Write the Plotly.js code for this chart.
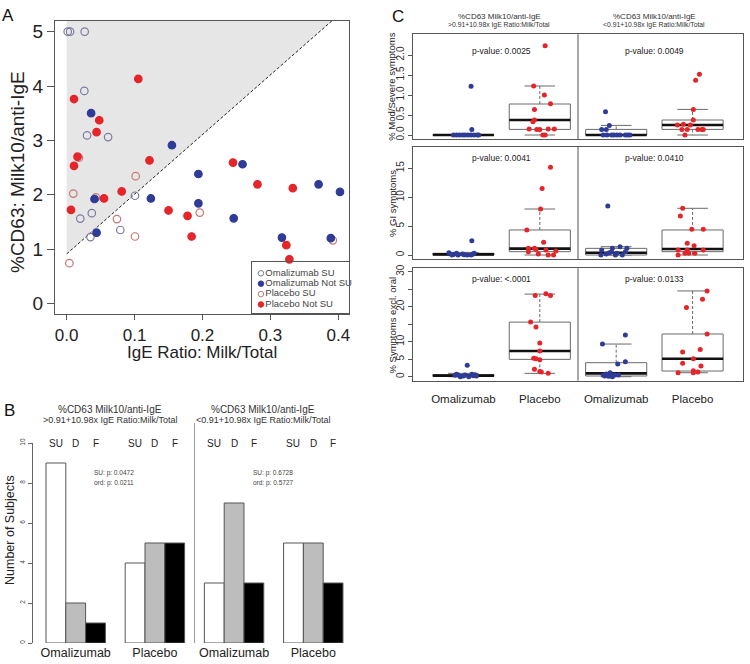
<!DOCTYPE html>
<html><head><meta charset="utf-8">
<script src="https://cdn.plot.ly/plotly-3.0.1.min.js"></script>
<style>html,body{margin:0;padding:0;background:#fff}#chart{width:750px;height:664px}</style>
</head><body><div id="chart"></div>
<script>
// ---------- Panel A data ----------
const omalSU_x = [0.0015,0.005,0.0265,0.026,0.030,0.061,0.037,0.020,0.035,0.079,0.1006];
const omalSU_y = [5.0,5.0,5.0,3.91,3.09,3.06,1.66,1.56,1.22,1.35,1.98];
const placSU_x = [0.0098,0.018,0.1016,0.074,0.1006,0.004,0.043,0.196,0.392];
const placSU_y = [2.02,2.68,2.34,1.55,1.23,0.74,1.95,1.67,1.16];
const omalNot_x = [0.036,0.155,0.041,0.124,0.044,0.194,0.194,0.259,0.371,0.4025,0.246,0.317,0.389];
const omalNot_y = [3.50,2.91,1.92,1.93,1.30,2.38,1.84,2.56,2.19,2.05,1.565,1.21,1.20];
const placNot_x = [0.1055,0.0108,0.048,0.044,0.016,0.0108,0.122,0.081,0.055,0.0064,0.150,0.178,0.184,0.245,0.281,0.333,0.3235,0.328];
const placNot_y = [4.13,3.76,3.37,3.15,2.70,2.53,2.63,2.06,1.93,1.72,1.71,1.61,1.23,2.59,2.19,2.12,1.07,0.81];
const cutIntercept = 0.91, cutSlope = 10.98;
const aXTicks = [0,0.1,0.2,0.3,0.4];
const aYTicks = [0,1,2,3,4,5];
const legendNames = ['Omalizumab SU','Omalizumab Not SU','Placebo SU','Placebo Not SU'];

// ---------- Panel B data ----------
const bGroups = ['Omalizumab','Placebo','Omalizumab','Placebo'];
const bOutcomes = ['SU','D','F'];
const bSU = [9,4,3,5];
const bD  = [2,5,7,5];
const bF  = [1,5,3,3];
const bYTicks = [0,2,4,6,8,10];
const subTitle1 = '%CD63 Milk10/anti-IgE';
const subTitle2 = ['>0.91+10.98x IgE Ratio:Milk/Total','<0.91+10.98x IgE Ratio:Milk/Total'];
const bPvals = [['SU: p: 0.0472','ord: p: 0.0211'],['SU: p: 0.6728','ord: p: 0.5727']];

// ---------- Panel C data ----------
const cNames = ['Omalizumab','Placebo','Omalizumab','Placebo'];
const cPos = [1,2,3,4];
const cYTitles = ['% Mod/Severe symptoms','% GI symptoms','% Symptoms excl. oral'];
const cPvals = [['p-value: 0.0025','p-value: 0.0049'],['p-value: 0.0041','p-value: 0.0410'],['p-value: <.0001','p-value: 0.0133']];
const modTicks = [0,0.5,1,1.5,2], modTickText = ['0.0','0.5','1.0','1.5','2.0'];
const giTicks = [0,5,10,15], giTickText = ['0','5','10','15'];
const exTicks = [0,5,10,15,20,25,30], exTickText = ['0','5','10','','20','','30'];

const modQ1=[0,0.14,0,0.14], modMed=[0,0.375,0,0.25], modQ3=[0,0.775,0.14,0.375], modLo=[0,0,0,0], modHi=[0,1.225,0.24,0.64];
const modVals=[[1.22,0.14,0,0,0,0,0,0,0,0,0,0],[2.23,1.225,1.0,0.78,0.64,0.375,0.33,0.15,0.14,0.15,0.15,0,0,0.14],[0.58,0.24,0.14,0.14,0,0,0,0,0,0,0,0,0],[1.52,1.37,0.64,0.375,0.27,0.25,0.14,0.14,0.14,0.14,0.14,0,0.25]];
const modJit=[[1.10,1.11,0.87,0.91,0.95,0.99,1.02,1.06,1.10,1.14,1.18,1.20],[2.07,1.92,2.06,2.14,1.93,1.93,1.91,1.86,2.00,2.11,2.19,2.04,2.07,1.96],[2.86,2.91,2.81,2.87,2.83,2.88,2.94,2.97,3.01,3.05,3.12,3.15,3.18],[4.09,4.04,4.01,4.01,3.88,3.80,3.86,3.93,4.07,4.12,4.14,3.90,3.97]];

const giQ1=[0,0.58,0,0.58], giMed=[0.1,1.1,0.4,1.04], giQ3=[0.3,4.33,1.15,4.33], giLo=[0,0,0,0], giHi=[0.45,7.96,1.44,8.08];
const giVals=[[2.48,0.40,0,0.17,0,0,0.29,0.1,0.05,0.3,0.12,0],[15.2,11.5,7.96,4.33,2.2,1.15,1.15,0.87,0.7,0.58,0.17,0,0,1.0],[8.5,1.44,1.15,0.87,0.58,0.4,0.29,0,0,0,0.17,1.15,0.58],[8.08,6.75,4.44,4.44,2.02,1.62,0.87,0.87,0.87,0.29,0.29,0,0.29]];
const giJit=[[1.11,0.81,0.93,0.99,1.05,1.10,1.14,0.87,1.01,0.91,1.12,0.85],[2.14,2.03,2.01,1.83,2.05,1.85,1.93,2.08,2.21,1.85,1.98,2.11,2.18,1.95],[2.89,3.05,2.95,2.81,3.12,2.91,3.01,2.80,2.99,3.08,2.87,3.14,2.94],[3.87,3.84,3.99,4.14,3.93,4.02,3.81,3.93,4.14,3.95,3.90,3.81,4.03]];

const exQ1=[0.1,4.95,0.19,1.62], exMed=[0.3,7.33,0.95,5.14], exQ3=[0.6,15.6,4.0,12.2], exLo=[0,0.95,0,1.14], exHi=[0.95,23.6,9.33,24.5];
const exVals=[[3.24,0.67,0,0.19,0,0.29,0.19,0.48,0.38,0.67,0.48,0.57],[23.2,23.7,23.2,15.6,14.2,9.6,7.33,5.24,5.14,4.86,2.1,1.52,0.95,1.33],[11.9,9.33,4.29,3.62,1.14,0.76,0.48,0.48,0.19,0.1,0.48,0.48,0],[24.5,22.1,19.8,12.2,7.05,7.8,5.14,3.81,3.05,1.71,1.33,1.14,1.14]];
const exJit=[[1.05,0.91,0.96,1.00,1.07,1.13,1.17,0.93,0.89,1.11,1.02,1.15],[1.94,2.08,2.14,1.88,1.95,2.00,2.00,1.92,1.95,2.00,1.93,2.00,2.11,2.02],[3.12,2.82,3.12,3.02,2.92,2.87,2.94,2.83,2.85,2.90,2.98,3.03,2.95],[4.19,4.13,3.92,4.19,3.87,4.10,4.01,3.87,4.11,4.01,4.07,3.81,4.01]];

// ---------- helpers ----------
const W = 750, H = 664;
const FONT = 'Liberation Sans, Arial, sans-serif';
const px = x => x / W;
const py = y => 1 - y / H;
const BLUE = '#2e3b97', RED = '#e5252a', OSU = '#7b7b9e', PSU = '#c47876';
const traces = [];
const annotations = [];
const shapes = [];
function note(xp, yp, text, size, extra) {
  annotations.push(Object.assign({xref:'paper', yref:'paper', x:px(xp), y:py(yp), text:text, showarrow:false,
    xanchor:'center', yanchor:'middle', font:{size:size, color:'#222'}}, extra || {}));
}

// ---------- Panel A ----------
const aYRange = [-0.2, 5.2];
const xCutTop = (aYRange[1] - cutIntercept) / cutSlope;
traces.push({type:'scatter', mode:'lines', x:[0,0,xCutTop,0], y:[cutIntercept,aYRange[1],aYRange[1],cutIntercept],
  fill:'toself', fillcolor:'#e6e6e6', line:{width:0}, xaxis:'x', yaxis:'y', hoverinfo:'skip'});
traces.push({type:'scatter', mode:'lines', x:[0,xCutTop], y:[cutIntercept,aYRange[1]],
  line:{color:'#222', width:1, dash:'3px,2px'}, xaxis:'x', yaxis:'y'});
const aSeries = [
  {x:omalSU_x, y:omalSU_y, sym:'circle-open', color:OSU},
  {x:placSU_x, y:placSU_y, sym:'circle-open', color:PSU},
  {x:omalNot_x, y:omalNot_y, sym:'circle', color:BLUE},
  {x:placNot_x, y:placNot_y, sym:'circle', color:RED}
];
aSeries.forEach(s => traces.push({type:'scatter', mode:'markers', x:s.x, y:s.y, xaxis:'x', yaxis:'y',
  marker:{symbol:s.sym, size:7.5, color:s.color, line:{width:1.2, color:s.color}}}));
// manual legend
const legSym = ['circle-open','circle','circle-open','circle'];
const legCol = [OSU, BLUE, PSU, RED];
traces.push({type:'scatter', mode:'markers+text', xaxis:'x6', yaxis:'y6',
  x: legendNames.map(() => 0.095), y: legendNames.map((_, i) => 0.774 - i * 0.2025),
  text: legendNames, textposition:'middle right', textfont:{size:9.5, color:'#444', family:FONT},
  marker:{symbol:legSym, size:5.5, color:legCol, line:{width:1, color:legCol}}, cliponaxis:false});

// ---------- Panel B ----------
const bData = [bSU, bD, bF];
const bColors = ['#ffffff', '#bdbdbd', '#000000'];
bData.forEach((vals, k) => traces.push({type:'bar', x: vals.map((_, g) => g*4 + k + 0.5), y: vals, width: 1,
  xaxis:'x2', yaxis:'y2', marker:{color:bColors[k], line:{color:'#555', width:1}}}));
bGroups.forEach((_, g) => bOutcomes.forEach((o, k) => annotations.push({xref:'x2', yref:'y2', x:g*4+k+0.5, y:10,
  text:o, showarrow:false, xanchor:'center', yanchor:'middle', font:{size:10, color:'#222'}})));
shapes.push({type:'line', xref:'x2', yref:'paper', x0:7.5, x1:7.5, y0:py(643), y1:py(423), line:{color:'#999', width:1}});
[110, 263].forEach((cx, i) => {
  note(cx, 409.5, subTitle1, 10, {font:{size:10, color:'#333'}});
  note(cx, 420, subTitle2[i], 9, {font:{size:9, color:'#333'}});
});
[114, 273].forEach((cx, i) => {
  note(cx, 473, bPvals[i][0], 6.5, {font:{size:6.5, color:'#444'}});
  note(cx, 483, bPvals[i][1], 6.5, {font:{size:6.5, color:'#444'}});
});
note(10, 530, 'Number of Subjects', 12.5, {textangle:-90});

// ---------- Panel C ----------
const cRows = [
  {q1:modQ1, med:modMed, q3:modQ3, lo:modLo, hi:modHi, vals:modVals, jit:modJit},
  {q1:giQ1, med:giMed, q3:giQ3, lo:giLo, hi:giHi, vals:giVals, jit:giJit},
  {q1:exQ1, med:exMed, q3:exQ3, lo:exLo, hi:exHi, vals:exVals, jit:exJit}
];
const HALF = 0.4, STAP = 0.2;
cRows.forEach((r, ri) => {
  const xa = 'x' + (ri + 3), ya = 'y' + (ri + 3);
  cPos.forEach((p, g) => {
    traces.push({type:'scatter', mode:'lines', xaxis:xa, yaxis:ya, x:[p, p, null, p, p], y:[r.q3[g], r.hi[g], null, r.q1[g], r.lo[g]],
      line:{color:'#6a6a6a', width:1, dash:'3px,2px'}, hoverinfo:'skip'});
    traces.push({type:'scatter', mode:'lines', xaxis:xa, yaxis:ya, x:[p-STAP, p+STAP, null, p-STAP, p+STAP], y:[r.hi[g], r.hi[g], null, r.lo[g], r.lo[g]],
      line:{color:'#6a6a6a', width:1}, hoverinfo:'skip'});
    traces.push({type:'scatter', mode:'lines', xaxis:xa, yaxis:ya, x:[p-HALF, p+HALF, p+HALF, p-HALF, p-HALF], y:[r.q1[g], r.q1[g], r.q3[g], r.q3[g], r.q1[g]],
      fill:'toself', fillcolor:'#ffffff', line:{color:'#6a6a6a', width:1}, hoverinfo:'skip'});
    traces.push({type:'scatter', mode:'lines', xaxis:xa, yaxis:ya, x:[p-HALF, p+HALF], y:[r.med[g], r.med[g]],
      line:{color:'#111', width:2.6}, hoverinfo:'skip'});
  });
  cPos.forEach((p, g) => {
    traces.push({type:'scatter', mode:'markers', xaxis:xa, yaxis:ya, x:r.jit[g], y:r.vals[g],
      marker:{size:5, color: g % 2 === 0 ? BLUE : RED}, cliponaxis:false});
  });
  shapes.push({type:'line', xref:xa, yref:ya + ' domain', x0:2.5, x1:2.5, y0:0, y1:1, line:{color:'#555', width:1}});
});
const cRowPix = [[34.3,139.3],[146.7,259.3],[268.3,380.7]];
const cPvalY = [51, 158, 279];
cRowPix.forEach((rp, ri) => {
  note(392, (rp[0]+rp[1])/2, cYTitles[ri], 9.5, {textangle:-90});
  [501, 654].forEach((cx, i) => note(cx, cPvalY[ri], cPvals[ri][i], 8.5));
});
[499, 654].forEach((cx, i) => {
  note(cx, 17, subTitle1, 8, {font:{size:8, color:'#333'}});
  note(cx, 24.5, subTitle2[i], 6.8, {font:{size:6.8, color:'#333'}});
});

// ---------- Panel A titles & letters ----------
note(202, 353, 'IgE Ratio: Milk/Total', 17);
note(17, 172, '%CD63: Milk10/anti-IgE', 19, {textangle:-90});
[['A',8,16],['B',9,410],['C',398,17]].forEach(l => note(l[1], l[2], l[0], 17, {font:{size:17, color:'#111'}}));

// ---------- layout ----------
const frameAxis = {showline:true, mirror:true, linecolor:'#555', linewidth:1, showgrid:false, zeroline:false};
const cXDom = [px(413), px(743)], cXRange = [0.34, 4.66];
const cY = [
  {dom:[py(139.3), py(34.3)], range:[-0.1075, 2.5175], tv:modTicks, tt:modTickText},
  {dom:[py(259.3), py(146.7)], range:[-0.744, 18.74], tv:giTicks, tt:giTickText},
  {dom:[py(380.7), py(268.3)], range:[-1.143, 30.97], tv:exTicks, tt:exTickText}
];
const layout = {
  width: W, height: H, margin:{l:0, r:0, t:0, b:0}, showlegend:false, autosize:false,
  paper_bgcolor:'#fff', plot_bgcolor:'rgba(0,0,0,0)', font:{family:FONT, color:'#222'}, barmode:'overlay',
  xaxis: Object.assign({}, frameAxis, {domain:[px(55), px(349)], range:[-0.0172, 0.4158], anchor:'y',
    ticks:'outside', ticklen:5, tickcolor:'#555', tickvals:aXTicks, tickformat:'.1f', tickfont:{size:17, color:'#222'}}),
  yaxis: Object.assign({}, frameAxis, {domain:[py(314.2), py(20.8)], range:aYRange, anchor:'x',
    ticks:'outside', ticklen:7, tickcolor:'#555', tickvals:aYTicks, tickfont:{size:19, color:'#222'}}),
  xaxis6: {domain:[px(251.7), px(349)], range:[0,1], anchor:'y6', showline:true, mirror:true, linecolor:'#555',
    showticklabels:false, ticks:'', showgrid:false, zeroline:false},
  yaxis6: {domain:[py(313), py(261.7)], range:[0,1], anchor:'x6', showline:true, mirror:true, linecolor:'#555',
    showticklabels:false, ticks:'', showgrid:false, zeroline:false},
  xaxis2: {domain:[px(33), px(360)], range:[-0.657, 15.86], anchor:'y2', showline:false, showgrid:false, zeroline:false,
    ticks:'', tickvals: bGroups.map((_, g) => g*4 + 1.5), ticktext: bGroups, tickfont:{size:12.5, color:'#222'}},
  yaxis2: {domain:[py(643), py(443)], range:[0, 10], anchor:'x2', showline:true, linecolor:'#666', showgrid:false, zeroline:false,
    ticks:'outside', ticklen:4, tickcolor:'#666', tickvals:bYTicks, tickangle:-90, tickfont:{size:6.5, color:'#444'}},
  shapes: shapes,
  annotations: annotations
};
cY.forEach((c, ri) => {
  const n = ri + 3;
  layout['xaxis' + n] = Object.assign({}, frameAxis, {domain:cXDom, range:cXRange, anchor:'y' + n,
    tickvals:cPos, ticktext:cNames, showticklabels: ri === 2, ticks: ri === 2 ? 'outside' : '', ticklen:7,
    tickcolor:'rgba(0,0,0,0)', tickfont:{size:11.5, color:'#222'}});
  layout['yaxis' + n] = Object.assign({}, frameAxis, {domain:c.dom, range:c.range, anchor:'x' + n,
    ticks:'outside', ticklen:4, tickcolor:'#555', tickvals:c.tv, ticktext:c.tt, tickangle:-90, tickfont:{size:10, color:'#333'}});
});
Plotly.newPlot('chart', traces, layout, {displayModeBar:false, staticPlot:true});
</script></body></html>
